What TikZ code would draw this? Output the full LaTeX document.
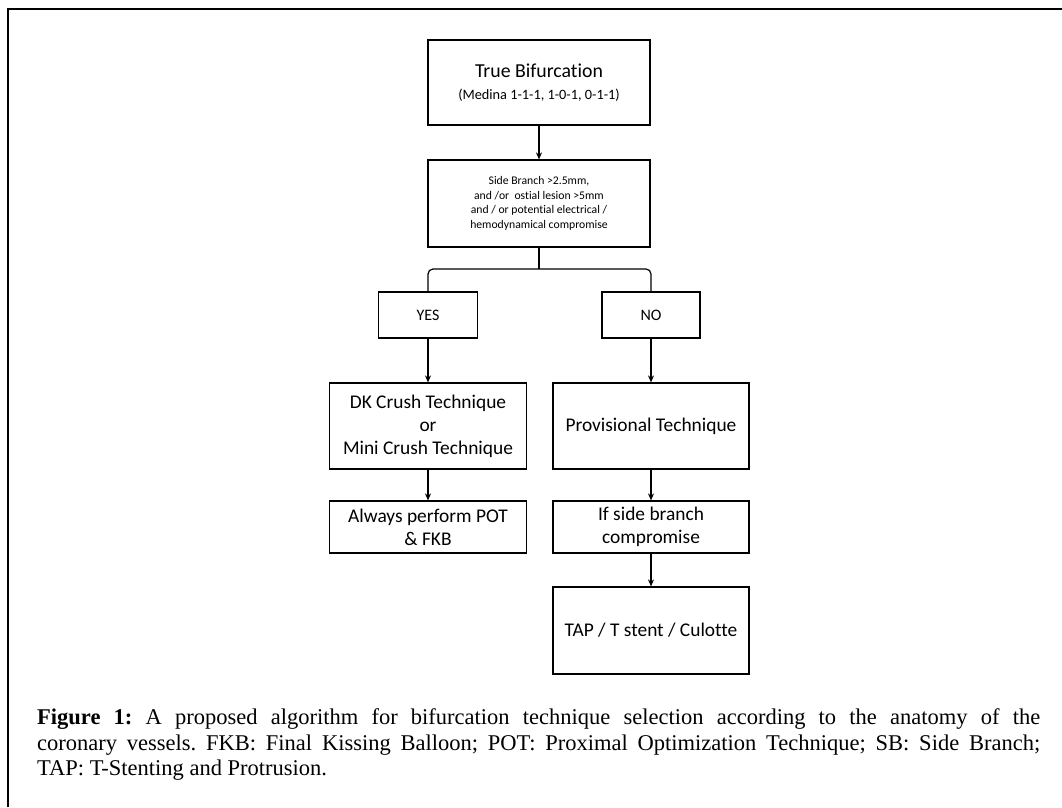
\documentclass[tikz,border=0pt]{standalone}
\usepackage{fontspec}
\setmainfont{Liberation Serif}
\newfontfamily\boxfont{Carlito}[Ligatures=NoCommon]
\usetikzlibrary{arrows.meta, positioning}

\begin{document}
\begin{tikzpicture}[x=1pt, y=-1pt]
	\tikzset{stepbox/.style = {shape=rectangle, draw, line width=1.2pt, align=center, inner sep=0pt, font=\boxfont\fontsize{19.4}{23}\selectfont}}
	\tikzset{smalltext/.style = {font=\boxfont\fontsize{11.7}{14.7}\selectfont}}
	\tikzset{answer/.style = {font=\boxfont\fontsize{16}{19}\selectfont}}
	\tikzset{edge/.style = {-{Stealth[length=7pt, width=6pt]}, line width=1.2pt}}

	\useasboundingbox (0,0) rectangle (1062,807);
	\draw[line width=1.5pt] (8,807) -- (8,9) -- (1062,9);

	\node[stepbox, minimum width=222, minimum height=85] (TB) at (539,82.5) {{\fontsize{19.8}{22}\selectfont True Bifurcation}\\[-1pt]{\fontsize{14.3}{16}\selectfont (Medina 1-1-1, 1-0-1, 0-1-1)}};
	\node[stepbox, smalltext, minimum width=222, minimum height=87] (SB) at (539,203.5) {Side Branch >2.5mm,\\and /or~ ostial lesion >5mm\\and / or potential electrical /\\hemodynamical compromise};
	\coordinate (split) at (539,269);

	\node[stepbox, answer, minimum width=99, minimum height=46] (YES) at (428,315) {YES};
	\node[stepbox, answer, minimum width=98, minimum height=46] (NO) at (651,315) {NO};

	\node[stepbox, minimum width=197, minimum height=86] (DK) at (428,426) {DK Crush Technique\\or\\Mini Crush Technique};
	\node[stepbox, minimum width=196, minimum height=86] (PROV) at (651,426) {Provisional Technique};

	\node[stepbox, minimum width=197, minimum height=52] (POT) at (428,527) {Always perform POT\\\& FKB};
	\node[stepbox, minimum width=196, minimum height=52] (SIDE) at (651,527) {If side branch\\compromise};

	\node[stepbox, minimum width=196, minimum height=87] (TAP) at (651,630.5) {TAP / T stent / Culotte};

	\draw[edge] (TB) to (SB);
	\draw[line width=1.2pt] (SB) to (split);
	\draw[line width=1.2pt, rounded corners=5pt] (YES.north) |- (split) -| (NO.north);

	\draw[edge] (YES) to (DK);
	\draw[edge] (DK) to (POT);
	\draw[edge] (NO) to (PROV);
	\draw[edge] (PROV) to (SIDE);
	\draw[edge] (SIDE) to (TAP);

	\node[anchor=north west, inner sep=0pt, text width=1003pt, align=justify, font=\fontsize{22.5}{25.5}\selectfont\frenchspacing] (CAP) at (37,708.5) {\textbf{Figure 1:} A proposed algorithm for bifurcation technique selection according to the anatomy of the\linebreak coronary vessels. FKB: Final Kissing Balloon; POT: Proximal Optimization Technique; SB: Side Branch;\linebreak TAP: T-Stenting and Protrusion.};
\end{tikzpicture}
\end{document}
